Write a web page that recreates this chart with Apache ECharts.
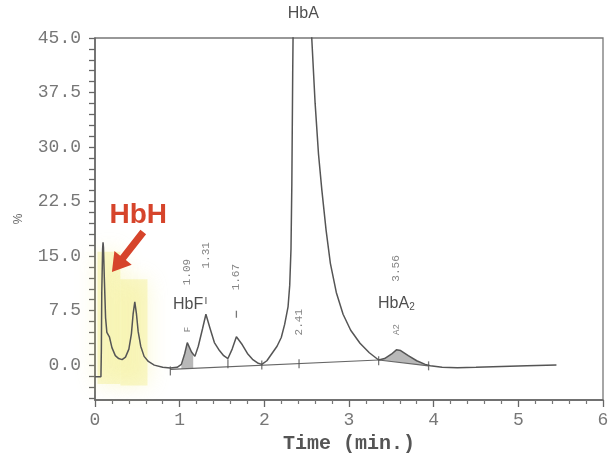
<!DOCTYPE html>
<html>
<head>
<meta charset="utf-8">
<script src="https://cdn.jsdelivr.net/npm/echarts@6/dist/echarts.min.js"></script>
<style>
  html, body { margin: 0; padding: 0; background: #fff; }
  #chart { width: 611px; height: 453px; }
</style>
</head>
<body>
<div id="chart"></div>
<script>
// HPLC haemoglobin trace: retention time (min) vs. signal (%)
const traceTime = [0, 0.07, 0.075, 0.08, 0.09, 0.095, 0.10, 0.11, 0.125, 0.14, 0.155, 0.17, 0.20, 0.24, 0.28, 0.32, 0.36, 0.40, 0.43, 0.45,
  0.47, 0.49, 0.51, 0.54, 0.58, 0.63, 0.70, 0.80, 0.89, 0.97, 1.02, 1.06, 1.09, 1.14, 1.18, 1.22, 1.27, 1.31, 1.36, 1.41,
  1.47, 1.52, 1.57, 1.62, 1.67, 1.74, 1.80, 1.86, 1.92, 1.97, 2.03, 2.09, 2.15, 2.20, 2.24, 2.28, 2.30, 2.315, 2.325, 2.335,
  2.345, 2.37, 2.395, 2.42, 2.46, 2.50, 2.535, 2.56, 2.60, 2.64, 2.68, 2.73, 2.78, 2.85, 2.93, 3.02, 3.13, 3.24, 3.35, 3.42,
  3.50, 3.56, 3.61, 3.70, 3.80, 3.90, 3.96, 4.10, 4.28, 4.50, 4.80, 5.10, 5.45];
const traceValue = [-1.6, -1.6, 2.0, 10.0, 16.0, 16.9, 16.2, 12.0, 6.5, 4.5, 4.4, 3.9, 2.4, 1.3, 0.9, 0.75, 1.1, 2.2, 4.3, 7.0,
  8.7, 7.0, 4.6, 2.6, 1.2, 0.5, 0.0, -0.3, -0.4, -0.3, 0.1, 1.6, 3.1, 1.8, 1.2, 2.6, 5.0, 7.0, 5.0, 3.1,
  2.0, 1.3, 0.9, 2.2, 3.9, 2.8, 1.6, 0.8, 0.3, 0.1, 0.6, 1.6, 2.6, 3.8, 5.6, 8.0, 11.0, 16.0, 25.0, 40.0,
  52.0, 64.0, 71.0, 74.0, 70.0, 62.0, 52.0, 45.0, 36.0, 29.0, 24.0, 18.5, 14.0, 10.0, 7.0, 4.8, 3.0, 1.7, 0.7, 0.9,
  1.5, 2.1, 2.0, 1.3, 0.6, 0.1, -0.1, -0.3, -0.35, -0.3, -0.2, -0.1, 0.0];

// Integration baselines
const baseTime = [0.89, 3.35];
const baseValue = [-0.6, 0.7];
const a2BaseTime = [3.35, 3.94];
const a2BaseValue = [0.7, -0.1];

// Shaded (integrated) peaks: start/end time
const fillStart = [1.02, 3.35];
const fillEnd = [1.16, 3.94];

// Valley drop marks on the baseline
const dropTime = [0.89, 1.57, 1.97, 2.41, 3.35, 3.94];
const dropValue = [-0.8, 0.2, 0.0, 0.2, 0.6, -0.1];

// Peak apex marks
const apexTime = [1.31, 1.67];
const apexValue = [8.9, 7.0];

// Retention time labels
const rtTime = [1.09, 1.31, 1.67, 2.41, 3.56];
const rtLevel = [12.8, 15.1, 12.1, 5.9, 13.3];
const rtText = ['1.09', '1.31', '1.67', '2.41', '3.56'];

// Small peak codes
const codeTime = [1.09, 3.56];
const codeLevel = [4.9, 4.9];
const codeText = ['F', 'A2'];

// Peak names
const nameTime = [1.10, 2.46, 3.56];
const nameLevel = [8.3, 48.3, 8.5];
const nameText = ['HbF', 'HbA', 'HbA{s|2}'];

// Highlighted HbH region and its callout
const hbhText = 'HbH';
const hbhTextAt = [0.51, 20.6];
const arrowTail = [0.57, 18.3];
const arrowTip = [0.20, 12.8];
const glowBoxes = [[0.03, -2.6, 0.30, 15.6], [0.30, -2.8, 0.62, 11.8]];

// Axis ticks and labels
const yMin = -4.8, yMax = 45;
const yTickValues = [];
for (let v = -4.5; v <= 45.001; v += 1.5) yTickValues.push(+v.toFixed(1));
const yLabelValues = [0, 7.5, 15, 22.5, 30, 37.5, 45];
const xMax = 6;

const zip = (a, b) => a.map((v, i) => [v, b[i]]);
const interp = (xs, ys, x) => {
  for (let i = 0; i < xs.length - 1; i++) {
    if (x >= xs[i] && x <= xs[i + 1]) {
      const t = (x - xs[i]) / (xs[i + 1] - xs[i]);
      return ys[i] + t * (ys[i + 1] - ys[i]);
    }
  }
  return ys[ys.length - 1];
};
const baseAt = (x) => x >= 3.35 ? interp(a2BaseTime, a2BaseValue, x) : interp(baseTime, baseValue, x);

const mono = '"Liberation Mono", "DejaVu Sans Mono", monospace';
const sans = '"Liberation Sans", Arial, sans-serif';
const ink = '#555';
const red = '#d6442b';

const chart = echarts.init(document.getElementById('chart'), null, { renderer: 'canvas' });

const option = {
  animation: false,
  grid: { left: 95, right: 8, top: 38, bottom: 53, show: true, borderColor: '#777', borderWidth: 1.3,
    backgroundColor: 'transparent', containLabel: false, outerBoundsMode: 'none' },
  xAxis: {
    type: 'value', min: 0, max: xMax, interval: 1,
    name: 'Time (min.)', nameLocation: 'middle', nameGap: 30,
    nameTextStyle: { fontFamily: mono, fontSize: 20, fontWeight: 'bold', color: '#555' },
    axisLine: { onZero: false, lineStyle: { color: '#666', width: 1.5 } },
    axisTick: { length: 7, lineStyle: { color: '#666', width: 1.3 } },
    minorTick: { show: true, splitNumber: 5, length: 4, lineStyle: { color: '#777', width: 1.2 } },
    axisLabel: { fontFamily: mono, fontSize: 18, color: '#777', margin: 11 },
    splitLine: { show: false }
  },
  yAxis: {
    type: 'value', min: yMin, max: yMax,
    name: '%', nameLocation: 'middle', nameGap: 70, nameRotate: 90,
    nameTextStyle: { fontFamily: sans, fontSize: 12, color: '#666' },
    axisLine: { onZero: false, lineStyle: { color: '#666', width: 1.5 } },
    axisTick: { customValues: yTickValues, length: 6, lineStyle: { color: '#666', width: 1.3 } },
    axisLabel: { customValues: yLabelValues, fontFamily: mono, fontSize: 18, color: '#777', margin: 14,
      formatter: (v) => v.toFixed(1) },
    splitLine: { show: false }
  },
  series: [
    {
      // shaded integrated peak areas
      type: 'custom', z: 1, silent: true,
      data: fillStart.map((s, i) => [s, fillEnd[i]]),
      renderItem: (params, api) => {
        const s = api.value(0), e = api.value(1);
        const pts = [[s, baseAt(s)], [s, interp(traceTime, traceValue, s)]];
        traceTime.forEach((t, i) => { if (t > s && t < e) pts.push([t, traceValue[i]]); });
        pts.push([e, interp(traceTime, traceValue, e)]);
        pts.push([e, baseAt(e)]);
        return { type: 'polygon', shape: { points: pts.map(p => api.coord(p)) },
          style: { fill: '#b8b8b8', stroke: null } };
      },
      clip: true
    },
    {
      type: 'line', z: 2, silent: true, data: zip(baseTime, baseValue), symbol: 'none',
      lineStyle: { color: '#666', width: 1.2 }
    },
    {
      type: 'line', z: 2, silent: true, data: zip(a2BaseTime, a2BaseValue), symbol: 'none',
      lineStyle: { color: '#666', width: 1.2 }
    },
    {
      type: 'line', z: 3, silent: true, data: zip(traceTime, traceValue), symbol: 'none', clip: true,
      lineStyle: { color: ink, width: 1.5 }
    },
    {
      type: 'scatter', z: 3, silent: true, data: zip(dropTime, dropValue),
      symbol: 'rect', symbolSize: [1.3, 9], itemStyle: { color: '#555' }
    },
    {
      type: 'scatter', z: 3, silent: true, data: zip(apexTime, apexValue),
      symbol: 'rect', symbolSize: [1.3, 7], itemStyle: { color: '#555' }
    },
    {
      // retention times, printed vertically
      type: 'scatter', z: 4, silent: true, symbolSize: 0,
      data: rtTime.map((t, i) => ({ value: [t, rtLevel[i]], name: rtText[i] })),
      label: { show: true, position: 'inside', rotate: 90, formatter: '{b}',
        fontFamily: mono, fontSize: 11, color: '#666' }
    },
    {
      type: 'scatter', z: 4, silent: true, symbolSize: 0,
      data: codeTime.map((t, i) => ({ value: [t, codeLevel[i]], name: codeText[i] })),
      label: { show: true, position: 'inside', rotate: 90, formatter: '{b}',
        fontFamily: mono, fontSize: 9, color: '#666' }
    },
    {
      // peak names
      type: 'scatter', z: 4, silent: true, symbolSize: 0, clip: false,
      data: nameTime.map((t, i) => ({ value: [t, nameLevel[i]], name: nameText[i] })),
      label: { show: true, position: 'inside', formatter: '{b}',
        fontFamily: sans, fontSize: 16, color: '#222',
        rich: { s: { fontFamily: sans, fontSize: 10, color: '#222', verticalAlign: 'bottom', padding: [8, 0, 0, 0] } } }
    },
    {
      // yellow highlighter over the HbH peaks
      type: 'line', z: 6, silent: true, data: [],
      markArea: {
        silent: true,
        itemStyle: { color: 'rgba(240,234,110,0.32)', shadowBlur: 22, shadowColor: 'rgba(240,234,110,0.9)' },
        data: glowBoxes.map(b => [{ coord: [b[0], b[1]] }, { coord: [b[2], b[3]] }])
      }
    }
  ]
};

chart.setOption(option);

// HbH callout: text and arrow anchored to data coordinates
const px = (p) => chart.convertToPixel({ gridIndex: 0 }, p);
const tail = px(arrowTail), tip = px(arrowTip), textAt = px(hbhTextAt);
const dx = tip[0] - tail[0], dy = tip[1] - tail[1];
const len = Math.hypot(dx, dy);
const ux = dx / len, uy = dy / len, nx = -uy, ny = ux;
const shaftW = 3.6, headW = 11, headL = 18;
const hx = tip[0] - ux * headL, hy = tip[1] - uy * headL;
const arrowPts = [
  [tail[0] + nx * shaftW, tail[1] + ny * shaftW],
  [hx + nx * shaftW, hy + ny * shaftW],
  [hx + nx * headW, hy + ny * headW],
  tip,
  [hx - nx * headW, hy - ny * headW],
  [hx - nx * shaftW, hy - ny * shaftW],
  [tail[0] - nx * shaftW, tail[1] - ny * shaftW]
];

chart.setOption({
  graphic: [
    { type: 'polygon', z: 20, shape: { points: arrowPts }, style: { fill: red } },
    { type: 'text', z: 20, x: textAt[0], y: textAt[1],
      style: { text: hbhText, fill: red, font: 'bold 28px ' + sans, align: 'center', verticalAlign: 'middle' } }
  ]
});
</script>
</body>
</html>
